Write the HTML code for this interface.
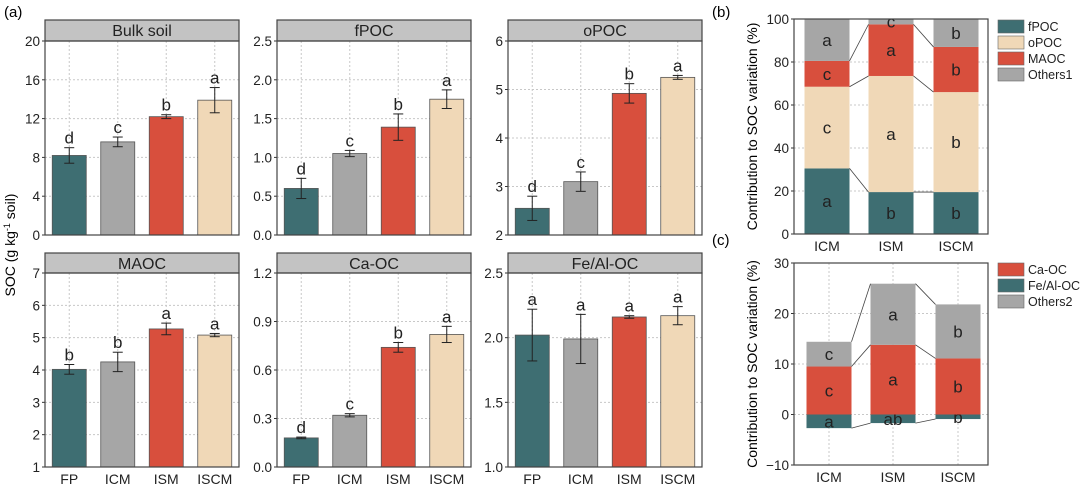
<!DOCTYPE html>
<html><head><meta charset="utf-8"><style>
body{margin:0;background:#fff;}
svg{display:block;font-family:"Liberation Sans",Arial,sans-serif;}
</style></head><body>
<svg id="fig" width="1080" height="489" viewBox="0 0 1080 489"></svg>
<script>
const groups = ["FP","ICM","ISM","ISCM"];
const colors = ["#3e6e72","#a6a6a6","#d84f3d","#f0d8b7"];
const panelTitles = ["Bulk soil","fPOC","oPOC","MAOC","Ca-OC","Fe/Al-OC"];
const bulkVals = [8.2,9.6,12.2,13.9];   const bulkErr = [0.8,0.5,0.2,1.3];   const bulkLet = ["d","c","b","a"];
const fpocVals = [0.6,1.05,1.39,1.75];  const fpocErr = [0.13,0.04,0.17,0.12]; const fpocLet = ["d","c","b","a"];
const opocVals = [2.55,3.1,4.92,5.25];  const opocErr = [0.25,0.2,0.2,0.04];  const opocLet = ["d","c","b","a"];
const maocVals = [4.02,4.25,5.27,5.08]; const maocErr = [0.15,0.3,0.18,0.05]; const maocLet = ["b","b","a","a"];
const caVals = [0.18,0.32,0.74,0.82];   const caErr = [0.005,0.01,0.03,0.05]; const caLet = ["d","c","b","a"];
const feVals = [2.02,1.99,2.16,2.17];   const feErr = [0.2,0.19,0.01,0.07];   const feLet = ["a","a","a","a"];
const bulkTicks=[0,4,8,12,16,20]; const fpocTicks=[0.0,0.5,1.0,1.5,2.0,2.5]; const opocTicks=[2,3,4,5,6];
const maocTicks=[1,2,3,4,5,6,7]; const caTicks=[0.0,0.3,0.6,0.9,1.2]; const feTicks=[1.0,1.5,2.0,2.5];
const tickDec=[0,1,0,0,1,1];

const stackCats=["ICM","ISM","ISCM"];
const bNames=["fPOC","oPOC","MAOC","Others1"];
const bColors=["#3e6e72","#f0d8b7","#d84f3d","#a6a6a6"];
const bFpoc=[30.5,19.5,19.5]; const bOpoc=[38,54,46.5]; const bMaoc=[12,24,21]; const bOthers=[19.5,2.5,13];
const bLetters=[["a","c","c","a"],["b","a","a","c"],["b","b","b","b"]];
const bTicks=[0,20,40,60,80,100];
const cNames=["Ca-OC","Fe/Al-OC","Others2"];
const cColors=["#d84f3d","#3e6e72","#a6a6a6"];
const cFe=[-2.7,-1.7,-0.9]; const cCa=[9.5,13.8,11.1]; const cOthers=[4.9,12.1,10.7];
const cLetters=[["a","c","c"],["ab","a","a"],["b","b","b"]];
const cTicks=[-10,0,10,20,30];

const svg=document.getElementById('fig');
const NS="http://www.w3.org/2000/svg";
function el(tag,attrs,parent,txt){const e=document.createElementNS(NS,tag);for(const k in attrs)e.setAttribute(k,attrs[k]);if(txt!==undefined)e.textContent=txt;(parent||svg).appendChild(e);return e;}

const panels=[
 {v:bulkVals,e:bulkErr,l:bulkLet,t:bulkTicks},{v:fpocVals,e:fpocErr,l:fpocLet,t:fpocTicks},{v:opocVals,e:opocErr,l:opocLet,t:opocTicks},
 {v:maocVals,e:maocErr,l:maocLet,t:maocTicks},{v:caVals,e:caErr,l:caLet,t:caTicks},{v:feVals,e:feErr,l:feLet,t:feTicks}];
const colX=[45,277,508], W=194;
const rowY=[[20,41,235],[253,273,467]];
panels.forEach((p,i)=>{
  const x0=colX[i%3], r=rowY[Math.floor(i/3)], top=r[1], bot=r[2];
  const g=el('g',{});  
  const ymin=p.t[0], ymax=p.t[p.t.length-1];
  const y=v=>bot-(v-ymin)/(ymax-ymin)*(bot-top);
  const slot=W/4, xc=k=>x0+slot*(k+0.5);
  p.t.forEach(t=>{
    if(t!==ymin&&t!==ymax) el('line',{x1:x0,x2:x0+W,y1:y(t),y2:y(t),stroke:'#c8c8c8','stroke-dasharray':'2,2'},g);
    const tl=el('text',{x:x0-5,y:y(t)+5,'text-anchor':'end','font-size':13.5,fill:'#222'},g,t.toFixed(tickDec[i]));
     
    el('line',{x1:x0-3,x2:x0,y1:y(t),y2:y(t),stroke:'#333'},g);
  });
  groups.forEach((gname,k)=>el('line',{x1:xc(k),x2:xc(k),y1:top,y2:bot,stroke:'#c8c8c8','stroke-dasharray':'2,2'},g));
  p.v.forEach((v,k)=>{
    const bw=34;
    const b=el('rect',{x:xc(k)-bw/2,y:y(v),width:bw,height:bot-y(v),fill:colors[k],stroke:'#555','stroke-width':0.8},g);
     
    const hi=y(v+p.e[k]), lo=y(v-p.e[k]);
    el('line',{x1:xc(k),x2:xc(k),y1:hi,y2:lo,stroke:'#222'},g);
    el('line',{x1:xc(k)-5,x2:xc(k)+5,y1:hi,y2:hi,stroke:'#222'},g);
    el('line',{x1:xc(k)-5,x2:xc(k)+5,y1:lo,y2:lo,stroke:'#222'},g);
    const lt=el('text',{x:xc(k),y:hi-4,'text-anchor':'middle','font-size':17,fill:'#222'},g,p.l[k]);
     
  });
  el('rect',{x:x0,y:r[0],width:W,height:top-r[0],fill:'#c3c3c3',stroke:'#444','stroke-width':1.2},g);
  const tt=el('text',{x:x0+W/2,y:r[0]+16,'text-anchor':'middle','font-size':16,fill:'#222'},g,panelTitles[i]);
   
  el('rect',{x:x0,y:top,width:W,height:bot-top,fill:'none',stroke:'#444','stroke-width':1.2},g);
  if(i>=3) groups.forEach((gname,k)=>{const xl=el('text',{x:xc(k),y:484,'text-anchor':'middle','font-size':14,fill:'#222'},g,gname);
     });
});
let t=el('text',{x:4,y:17,'font-size':15},svg,'(a)');  
t=el('text',{x:0,y:0,'font-size':14,'text-anchor':'middle',transform:'translate(15,245) rotate(-90)'},svg,'');
 
t.innerHTML='SOC (g kg<tspan dy="-5" font-size="9">-1</tspan><tspan dy="5"> soil)</tspan>';

function stacked(segs,cols,cats,letters,ticks,x0,top,bot,bxs,segNames,legNames,legCols,legY,label,labY,nm){
  const g=el('g',{});  
  const W2=194, ymin=ticks[0], ymax=ticks[ticks.length-1];
  const y=v=>bot-(v-ymin)/(ymax-ymin)*(bot-top);
  const bw=45, xc=k=>x0+bxs[k];
  ticks.forEach(tk=>{
    if(tk!==ymin&&tk!==ymax) el('line',{x1:x0,x2:x0+W2,y1:y(tk),y2:y(tk),stroke:'#c8c8c8','stroke-dasharray':'2,2'},g);
    const tl=el('text',{x:x0-5,y:y(tk)+5,'text-anchor':'end','font-size':13.5,fill:'#222'},g,tk<0?'\u2212'+(-tk):String(tk));
     
    el('line',{x1:x0-3,x2:x0,y1:y(tk),y2:y(tk),stroke:'#333'},g);
  });
  cats.forEach((c,k)=>el('line',{x1:xc(k),x2:xc(k),y1:top,y2:bot,stroke:'#c8c8c8','stroke-dasharray':'2,2'},g));
  const bounds=[];
  cats.forEach((c,k)=>{
    let pos=0,neg=0; const bk=[];
    segs.forEach((s,j)=>{
      const v=s[k]; let a,b;
      if(v<0){a=neg;b=neg+v;neg=b;} else {a=pos;b=pos+v;pos=b;}
      const r=el('rect',{x:xc(k)-bw/2,y:y(Math.max(a,b)),width:bw,height:Math.abs(y(a)-y(b)),fill:cols[j]},g);
       
      const lt=el('text',{x:xc(k),y:y((a+b)/2)+6,'text-anchor':'middle','font-size':17,fill:'#222'},g,letters[k][j]);
       
      bk.push(b);
    });
    bounds.push(bk);
  });
  for(let k=0;k<cats.length-1;k++) bounds[k].forEach((b,j)=>{
    el('line',{x1:xc(k)+bw/2,x2:xc(k+1)-bw/2,y1:y(b),y2:y(bounds[k+1][j]),stroke:'#444','stroke-width':0.8},g);
  });
  el('rect',{x:x0,y:top,width:W2,height:bot-top,fill:'none',stroke:'#444','stroke-width':1.2},g);
  cats.forEach((c,k)=>{const xl=el('text',{x:xc(k),y:bot+17,'text-anchor':'middle','font-size':14,fill:'#222'},g,c);
     });
  legNames.forEach((n,j)=>{
    const le=el('g',{},g);  
    el('rect',{x:998,y:legY+j*16,width:26,height:13,fill:legCols[j],stroke:'#666','stroke-width':0.6},le);
    el('text',{x:1028,y:legY+j*16+11,'font-size':12.5,fill:'#222'},le,n);
  });
  const yt=el('text',{x:0,y:0,'font-size':14,'text-anchor':'middle',transform:`translate(757,${(top+bot)/2}) rotate(-90)`},g,'Contribution to SOC variation (%)');
   
  const pl=el('text',{x:712,y:labY,'font-size':15},g,label);
   
}
stacked([bFpoc,bOpoc,bMaoc,bOthers],bColors,stackCats,bLetters,bTicks,794,19,234,[33,97,162],bNames,bNames,bColors,20,'(b)',17,'panel-b-stacked');
stacked([cFe,cCa,cOthers],[cColors[1],cColors[0],cColors[2]],stackCats,cLetters,cTicks,794,263,465,[35,99,164],[cNames[1],cNames[0],cNames[2]],cNames,cColors,263,'(c)',245,'panel-c-stacked');
</script>
</body></html>
